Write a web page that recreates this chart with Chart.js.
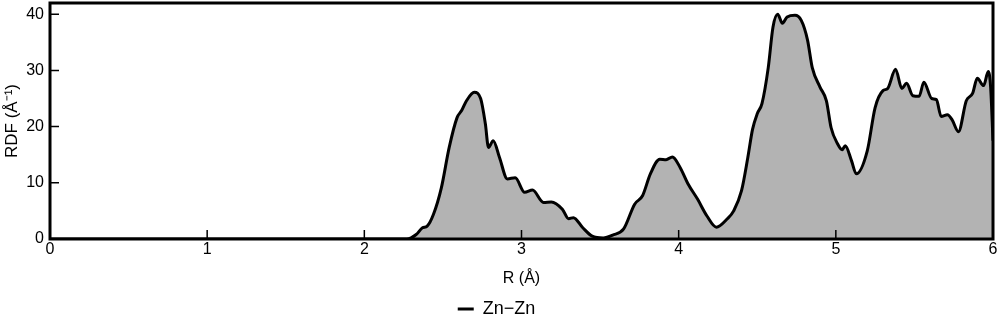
<!DOCTYPE html>
<html>
<head>
<meta charset="utf-8">
<script src="https://cdn.jsdelivr.net/npm/chart.js"></script>
<style>
  body { margin: 0; background: #fff; }
  #wrap { position: relative; width: 1000px; height: 322px; }
</style>
</head>
<body>
<div id="wrap"><canvas id="chart"></canvas></div>
<script>
// R values (Å) and RDF values
const rValues = [0, 2.27, 2.33, 2.37, 2.40, 2.44, 2.49, 2.54, 2.59, 2.62, 2.65, 2.70, 2.74, 2.77, 2.79, 2.82,
  2.86, 2.91, 2.96, 3.02, 3.07, 3.14, 3.19, 3.26, 3.30, 3.33, 3.39, 3.45, 3.52, 3.58, 3.65, 3.72, 3.77,
  3.82, 3.88, 3.92, 3.96, 4.01, 4.06, 4.12, 4.18, 4.24, 4.31, 4.35, 4.40, 4.44, 4.47, 4.50, 4.53, 4.57,
  4.60, 4.63, 4.66, 4.69, 4.74, 4.78, 4.82, 4.85, 4.90, 4.94, 4.97, 5.01, 5.04, 5.06, 5.10, 5.13, 5.20,
  5.25, 5.30, 5.33, 5.38, 5.42, 5.45, 5.49, 5.53, 5.56, 5.61, 5.64, 5.67, 5.71, 5.74, 5.78, 5.83, 5.87,
  5.90, 5.94, 5.97, 5.985, 6.0];
const rdfValues = [0, 0, 0.8, 2.0, 2.3, 4.4, 9.1, 16.3, 21.6, 22.9, 24.6, 26.1, 25.0, 20.5, 16.3, 17.5,
  14.5, 10.7, 10.9, 8.3, 8.7, 6.5, 6.6, 5.3, 3.6, 3.8, 2.0, 0.5, 0.2, 0.7, 1.8, 6.2, 7.7,
  11.6, 14.2, 14.1, 14.6, 12.7, 9.8, 7.1, 4.1, 2.1, 3.6, 5.0, 8.6, 14.5, 19.5, 22.3, 24.1, 30.5,
  37.7, 40.0, 38.4, 39.5, 39.8, 38.9, 35.4, 30.5, 27.0, 24.6, 19.8, 17.0, 15.9, 16.6, 13.9, 11.6, 15.7,
  23.4, 26.4, 26.8, 30.2, 26.8, 27.7, 25.5, 25.4, 27.9, 25.0, 24.8, 21.8, 22.1, 21.2, 19.1, 24.6, 25.9,
  28.6, 27.3, 29.8, 27.0, 17.5];
const seriesLabel = 'Zn\u2212Zn';
const xTicks = [0, 1, 2, 3, 4, 5, 6];
const yTicks = [0, 10, 20, 30, 40];

const points = rValues.map((r, i) => ({ x: r, y: rdfValues[i] }));
const fontFamily = 'Liberation Sans, Arial, sans-serif';

// frame + inward ticks drawn on top of the plot
const framePlugin = {
  id: 'frame',
  afterDatasetsDraw(chart) {
    const { ctx, chartArea, scales } = chart;
    ctx.save();
    ctx.strokeStyle = '#000';
    ctx.lineWidth = 1.5;
    ctx.beginPath();
    xTicks.slice(1, -1).forEach(t => {
      const px = scales.x.getPixelForValue(t);
      ctx.moveTo(px, chartArea.bottom);
      ctx.lineTo(px, chartArea.bottom - 9);
    });
    yTicks.slice(1).forEach(t => {
      const py = scales.y.getPixelForValue(t);
      ctx.moveTo(chartArea.left, py);
      ctx.lineTo(chartArea.left + 9, py);
    });
    ctx.stroke();
    ctx.lineWidth = 3;
    ctx.strokeRect(chartArea.left, chartArea.top, chartArea.right - chartArea.left, chartArea.bottom - chartArea.top);
    ctx.restore();
  }
};

const ctx = document.getElementById('chart').getContext('2d');
new Chart(ctx, {
  type: 'line',
  data: {
    datasets: [{
      label: seriesLabel,
      data: points,
      borderColor: '#000',
      borderWidth: 3,
      backgroundColor: '#b3b3b3',
      fill: 'origin',
      pointRadius: 0,
      cubicInterpolationMode: 'monotone'
    }]
  },
  options: {
    responsive: true,
    maintainAspectRatio: false,
    animation: false,
    layout: { padding: { top: 3, right: 7, left: 0, bottom: -6 } },
    scales: {
      x: {
        type: 'linear',
        min: 0,
        max: 6,
        grid: { display: false, drawTicks: false },
        border: { display: false },
        afterBuildTicks: (scale) => {
          scale.ticks = xTicks.map(v => ({ value: v }));
        },
        afterFit: (scale) => { scale.height = 61; },
        ticks: { color: '#000', padding: 1, font: { family: fontFamily, size: 16 }, maxRotation: 0, autoSkip: false },
        title: { display: true, text: 'R (\u00c5)', color: '#000', font: { family: fontFamily, size: 16 }, padding: { top: 12, bottom: 12 } }
      },
      y: {
        min: 0,
        max: 42,
        grid: { display: false, drawTicks: false },
        border: { display: false },
        afterBuildTicks: (scale) => {
          scale.ticks = yTicks.map(v => ({ value: v }));
        },
        afterFit: (scale) => {
          scale.width = 50;
          scale.paddingTop = 0;
          scale.paddingBottom = 0;
        },
        ticks: { color: '#000', padding: 6, font: { family: fontFamily, size: 16 }, autoSkip: false },
        title: { display: true, text: 'RDF (\u00c5\u207b\u00b9)', color: '#000', font: { family: fontFamily, size: 17 }, padding: { top: 2, bottom: 0 } }
      }
    },
    plugins: {
      legend: {
        position: 'bottom',
        labels: {
          usePointStyle: true,
          pointStyle: 'line',
          pointStyleWidth: 16,
          color: '#000',
          padding: 0,
          font: { family: fontFamily, size: 18 }
        }
      },
      tooltip: { enabled: false }
    }
  },
  plugins: [framePlugin]
});
</script>
</body>
</html>
